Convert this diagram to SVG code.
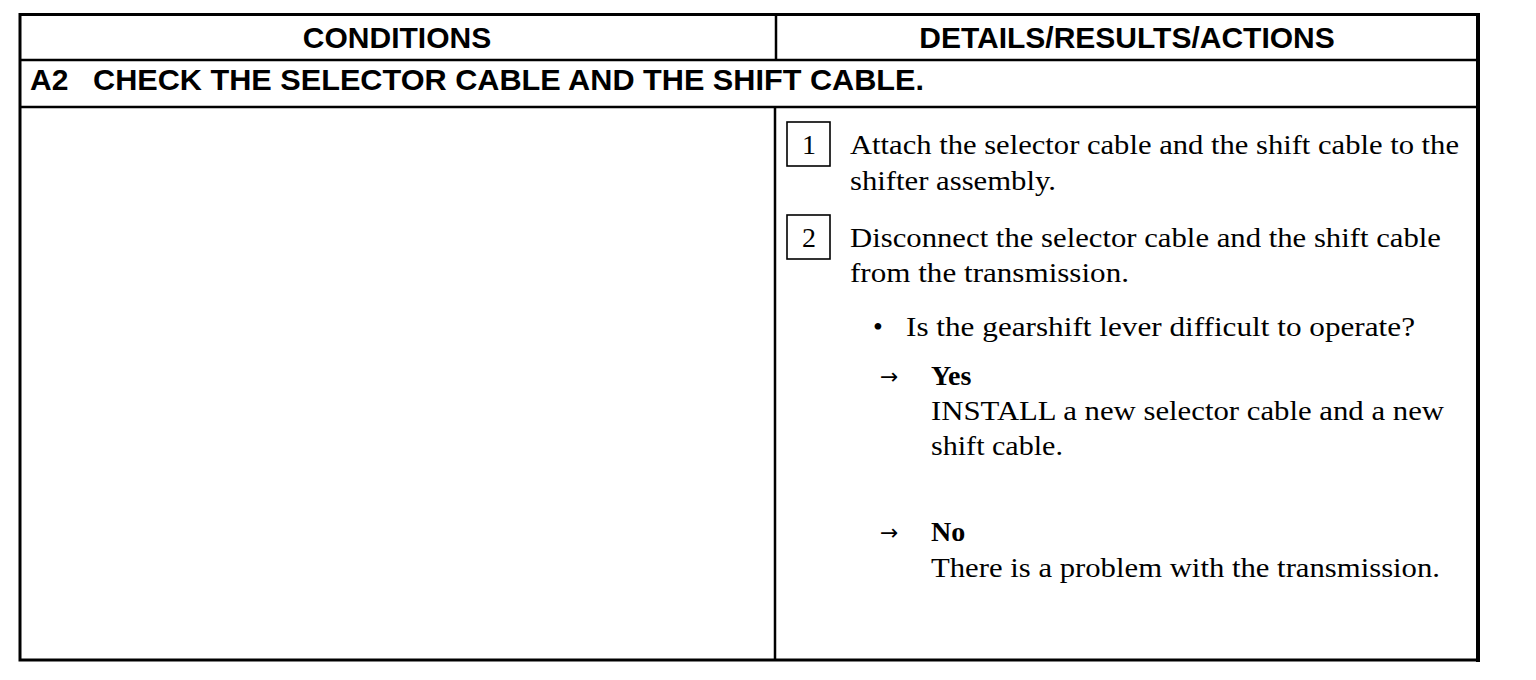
<svg xmlns="http://www.w3.org/2000/svg" width="1536" height="680" viewBox="0 0 1536 680">
<style>
.rule{stroke:#000;fill:none;stroke-width:2.5}
.outer{stroke:#000;fill:none;stroke-width:3}
.hd{font-family:"Liberation Sans",Arial,sans-serif;font-weight:bold;font-size:30px;fill:#000}
.bd{font-family:"Liberation Serif","Times New Roman",serif;font-size:28px;fill:#000}
.bb{font-family:"Liberation Serif","Times New Roman",serif;font-size:28px;font-weight:bold;fill:#000}
.ar{font-family:"DejaVu Sans",sans-serif;font-size:22px;fill:#000}
.nbox{stroke:#000;fill:none;stroke-width:1.6}
</style>
<rect width="1536" height="680" fill="#fff"/>
<g id="table">
  <rect class="outer" x="20" y="14.5" width="1458" height="645.5"/>
  <line x1="1478" y1="13" x2="1478" y2="662" stroke="#000" stroke-width="4"/>
  <line class="rule" x1="20" y1="60" x2="1478" y2="60"/>
  <line class="rule" x1="20" y1="107" x2="1478" y2="107"/>
  <line class="rule" x1="776" y1="14" x2="776" y2="60"/>
  <line class="rule" x1="775" y1="107" x2="775" y2="660"/>
</g>
<g id="header-conditions">
  <text class="hd" x="397" y="48" text-anchor="middle">CONDITIONS</text>
</g>
<g id="header-details">
  <text class="hd" x="1127" y="48" text-anchor="middle">DETAILS/RESULTS/ACTIONS</text>
</g>
<g id="title-a2">
  <text class="hd" x="30" y="90">A2</text>
  <text class="hd" x="93" y="90" textLength="831" lengthAdjust="spacingAndGlyphs">CHECK THE SELECTOR CABLE AND THE SHIFT CABLE.</text>
</g>
<g id="step1">
  <rect class="nbox" x="787" y="122" width="43" height="44"/>
  <text class="bd" x="809" y="154" text-anchor="middle">1</text>
  <text class="bd" x="850" y="154" textLength="609" lengthAdjust="spacingAndGlyphs">Attach the selector cable and the shift cable to the</text>
  <text class="bd" x="850" y="190" textLength="206" lengthAdjust="spacingAndGlyphs">shifter assembly.</text>
</g>
<g id="step2">
  <rect class="nbox" x="787" y="215" width="43" height="44"/>
  <text class="bd" x="809" y="247" text-anchor="middle">2</text>
  <text class="bd" x="850" y="247" textLength="591" lengthAdjust="spacingAndGlyphs">Disconnect the selector cable and the shift cable</text>
  <text class="bd" x="850" y="282" textLength="279" lengthAdjust="spacingAndGlyphs">from the transmission.</text>
</g>
<g id="question">
  <text class="bd" x="873" y="336">•</text>
  <text class="bd" x="906" y="336" textLength="509" lengthAdjust="spacingAndGlyphs">Is the gearshift lever difficult to operate?</text>
</g>
<g id="yes">
  <text class="ar" x="880" y="384">→</text>
  <text class="bb" x="931" y="385">Yes</text>
  <text class="bd" x="931" y="420" textLength="513" lengthAdjust="spacingAndGlyphs">INSTALL a new selector cable and a new</text>
  <text class="bd" x="931" y="455" textLength="132" lengthAdjust="spacingAndGlyphs">shift cable.</text>
</g>
<g id="no">
  <text class="ar" x="880" y="540">→</text>
  <text class="bb" x="931" y="541">No</text>
  <text class="bd" x="931" y="577" textLength="509" lengthAdjust="spacingAndGlyphs">There is a problem with the transmission.</text>
</g>
<g id="connectors"></g>
</svg>
